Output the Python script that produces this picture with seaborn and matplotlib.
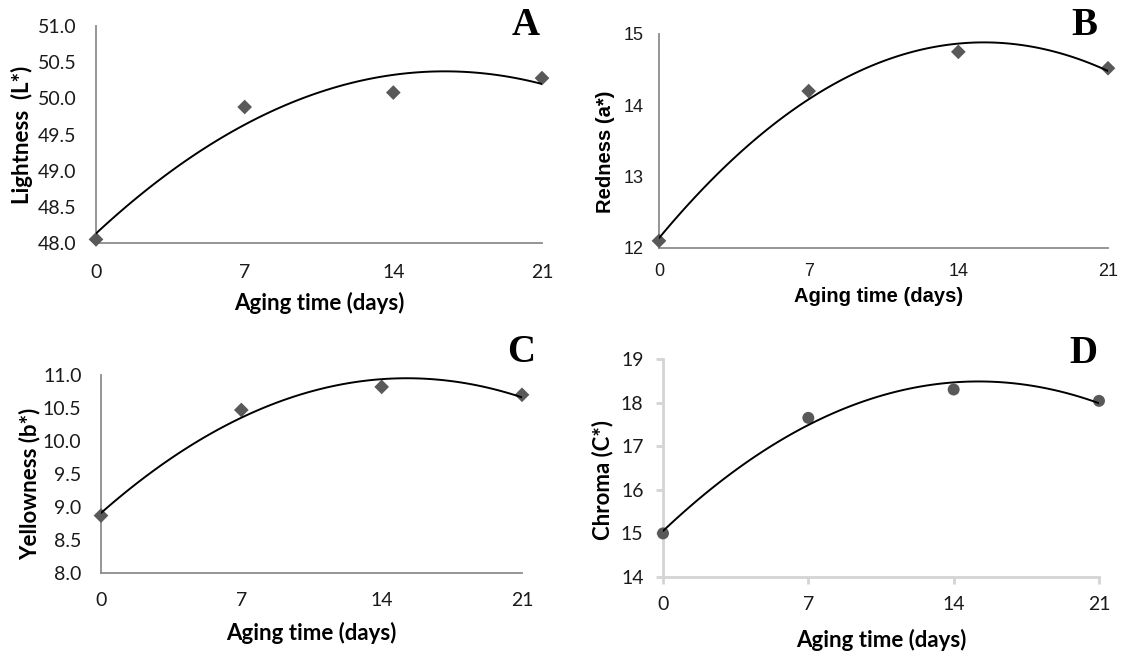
import matplotlib
matplotlib.use("Agg")
import matplotlib.pyplot as plt
import seaborn as sns
import numpy as np

# ---- data ----
days = [0, 7, 14, 21]
lightness = [48.05, 49.88, 50.08, 50.28]
redness = [12.10, 14.20, 14.75, 14.52]
yellowness = [8.87, 10.47, 10.82, 10.70]
chroma = [15.00, 17.65, 18.30, 18.04]

x_ticks = [0, 7, 14, 21]
yt_A = [48.0, 48.5, 49.0, 49.5, 50.0, 50.5, 51.0]
yt_B = [12, 13, 14, 15]
yt_C = [8.0, 8.5, 9.0, 9.5, 10.0, 10.5, 11.0]
yt_D = [14, 15, 16, 17, 18, 19]

xlabel = "Aging time (days)"

sns.set_theme(style="white")
plt.rcParams['font.family'] = ['Lato', 'DejaVu Sans']

W, H = 1126, 659
fig = plt.figure(figsize=(W / 100, H / 100), dpi=100)


def add_ax(left, right, bottom, top):
    return fig.add_axes([left / W, 1 - bottom / H, (right - left) / W, (bottom - top) / H])


def panel(box, yvals, yticks, fmt, ylabel, ylab_pos, xlab_pos, marker, msize,
          font, tsize, lsize, xpad, ypad, axcol, axlw, ticks=False):
    ax = add_ax(*box)
    sns.scatterplot(x=days, y=yvals, marker=marker, s=msize, color='#595959',
                    edgecolor='none', linewidth=0, ax=ax, clip_on=False, zorder=3)
    sns.regplot(x=days, y=yvals, order=2, ci=None, scatter=False, truncate=True,
                line_kws=dict(color='black', lw=1.4, zorder=4), ax=ax)
    ax.set_xlim(0, 21)
    ax.set_ylim(yticks[0], yticks[-1])
    ax.set_xticks(x_ticks)
    ax.set_xticklabels([str(v) for v in x_ticks], fontfamily=font, fontsize=tsize, color='#1a1a1a')
    ax.set_yticks(yticks)
    ax.set_yticklabels([fmt.format(v) for v in yticks], fontfamily=font, fontsize=tsize, color='#1a1a1a')
    for s in ['top', 'right']:
        ax.spines[s].set_visible(False)
    for s in ['left', 'bottom']:
        ax.spines[s].set_color(axcol)
        ax.spines[s].set_linewidth(axlw)
    if ticks:
        ax.tick_params(axis='both', which='major', length=5, width=axlw, color=axcol, direction='out',
                       bottom=True, left=True)
    else:
        ax.tick_params(axis='both', length=0)
    ax.tick_params(axis='x', pad=xpad)
    ax.tick_params(axis='y', pad=ypad)
    ax.set_xlabel(xlabel, fontfamily=font, fontsize=lsize, fontweight='bold', color='black')
    ax.set_ylabel(ylabel, fontfamily=font, fontsize=lsize, fontweight='bold', color='black')
    ax.xaxis.set_label_coords(*xlab_pos)
    ax.yaxis.set_label_coords(*ylab_pos)
    ax.patch.set_alpha(0)
    ax.grid(False)
    return ax


# A
panel((96, 542, 243, 26), lightness, yt_A, "{:.1f}", "Lightness  (L*)", (-0.142, 0.5), (0.5, -0.226),
      'D', 56, 'Lato', 14, 16, 15, 14, '#8c8c8c', 1.3)
# B
panel((659, 1108, 248, 34), redness, yt_B, "{:d}", "Redness (a*)", (-0.098, 0.45), (0.49, -0.182),
      'D', 56, 'Liberation Sans', 13, 14.5, 11, 11, '#8c8c8c', 1.3)
# C
panel((101, 522, 573, 375), yellowness, yt_C, "{:.1f}", "Yellowness (b*)", (-0.143, 0.45), (0.5, -0.247),
      'D', 56, 'Lato', 14, 16, 14, 14, '#8c8c8c', 1.3)
# D
panel((663, 1099, 577, 359), chroma, yt_D, "{:d}", "Chroma (C*)", (-0.113, 0.445), (0.5, -0.239),
      'o', 74, 'Lato', 14, 16, 9, 9, '#d4d4d4', 2.0, ticks=True)

letters = [("A", 540, 35), ("B", 1097, 35), ("C", 535, 362), ("D", 1097, 363)]
for t, xr, yb in letters:
    fig.text(xr / W, 1 - yb / H, t, ha='right', va='baseline', fontfamily='Liberation Serif',
             fontweight='bold', fontsize=28, color='black')

fig.savefig("out.png", dpi=100, facecolor='white')
